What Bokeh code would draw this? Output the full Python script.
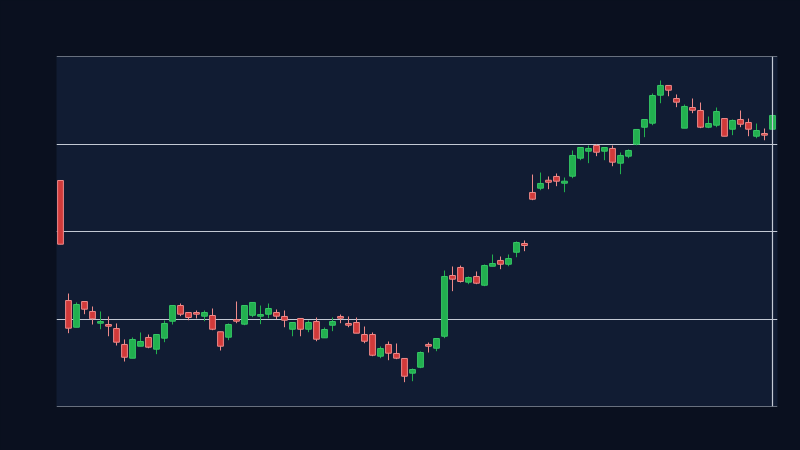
from bokeh.plotting import figure
from bokeh.models import ColumnDataSource, FixedTicker, Span, Range1d
from bokeh.embed import file_html
from bokeh.resources import INLINE

opens = [125.83, 112.11, 109.06, 112.00, 110.86, 109.52, 109.37, 108.91, 107.09, 105.52,
         106.89, 107.89, 106.55, 107.81, 109.75, 111.54, 110.74, 110.74, 110.32, 110.40,
         108.54, 107.92, 109.94, 109.41, 110.43, 110.32, 110.55, 110.74, 110.29, 108.83,
         110.06, 108.83, 109.71, 107.85, 109.29, 110.29, 109.49, 109.60, 108.23, 108.23,
         105.75, 107.09, 106.06, 105.49, 103.81, 104.49, 107.09, 106.66, 108.03, 114.97,
         115.89, 114.21, 114.86, 113.86, 116.03, 116.69, 116.26, 117.63, 118.63, 124.46,
         124.95, 125.86, 126.29, 125.52, 126.32, 128.38, 129.18, 129.83, 129.18, 129.49,
         127.81, 128.61, 129.98, 131.92, 132.38, 135.58, 136.69, 135.20, 131.81, 134.17,
         133.83, 131.92, 132.15, 132.91, 131.69, 132.80, 132.46, 130.89, 131.20, 131.69]
highs = [125.83, 112.91, 111.89, 112.00, 111.43, 110.86, 110.29, 109.49, 107.66, 107.89,
         108.46, 108.23, 108.23, 109.83, 111.54, 111.77, 110.74, 110.97, 110.97, 111.20,
         108.54, 109.49, 112.00, 111.54, 111.89, 111.54, 111.77, 111.09, 110.97, 109.60,
         110.06, 109.83, 110.17, 109.03, 110.17, 110.51, 110.29, 110.17, 109.14, 108.46,
         106.86, 107.43, 107.20, 105.49, 104.34, 106.29, 107.31, 107.77, 115.54, 116.00,
         116.11, 114.86, 115.43, 116.23, 117.37, 117.14, 117.37, 118.86, 118.97, 126.51,
         126.74, 126.29, 126.63, 126.17, 129.26, 129.60, 129.83, 129.98, 129.60, 129.83,
         129.03, 129.37, 131.66, 132.80, 135.77, 137.26, 136.69, 135.66, 134.51, 135.20,
         134.74, 133.14, 134.17, 132.91, 132.80, 133.83, 132.91, 132.34, 131.77, 133.26]
lows = [118.55, 108.38, 109.06, 110.55, 109.37, 108.83, 108.03, 106.97, 105.14, 105.52,
        106.89, 106.66, 105.98, 107.35, 109.37, 110.32, 109.86, 110.06, 109.75, 108.72,
        106.40, 107.58, 109.52, 109.29, 110.21, 109.41, 110.09, 109.98, 109.06, 108.03,
        108.03, 108.49, 107.46, 107.85, 108.61, 109.52, 109.06, 108.38, 107.23, 105.75,
        105.52, 105.29, 105.41, 102.78, 102.89, 104.38, 106.17, 106.32, 107.81, 113.18,
        114.17, 113.98, 113.98, 113.75, 116.03, 115.69, 116.03, 117.06, 117.75, 123.58,
        124.72, 124.83, 125.18, 124.49, 126.09, 128.15, 127.81, 128.61, 128.15, 127.46,
        126.55, 128.38, 129.86, 130.78, 132.15, 134.66, 135.46, 134.21, 131.81, 133.52,
        131.81, 131.81, 131.92, 130.89, 131.01, 131.92, 130.89, 130.66, 130.43, 131.69]
closes = [118.55, 108.95, 111.66, 111.12, 110.02, 109.71, 109.18, 107.35, 105.63, 107.66,
          107.43, 106.78, 108.23, 109.49, 111.54, 110.55, 110.17, 110.55, 110.74, 108.83,
          106.89, 109.37, 109.75, 111.54, 111.89, 110.51, 111.20, 110.32, 109.86, 109.60,
          108.83, 109.60, 107.69, 108.80, 109.71, 110.09, 109.29, 108.38, 107.46, 105.86,
          106.63, 106.09, 105.52, 103.46, 104.23, 106.17, 106.89, 107.77, 114.86, 114.55,
          114.29, 114.74, 114.09, 116.11, 116.34, 116.26, 116.91, 118.74, 118.40, 123.69,
          125.49, 125.63, 125.75, 125.75, 128.69, 129.60, 129.49, 129.06, 129.60, 127.92,
          128.69, 129.26, 131.66, 132.80, 135.54, 136.69, 136.15, 134.78, 134.29, 133.86,
          131.92, 132.34, 133.71, 130.89, 132.69, 132.26, 131.69, 131.54, 131.01, 133.26]
y_ticks = [100, 110, 120, 130, 140]

PAGE_BG = "#0a101f"
PLOT_BG = "#111c33"
GRID = "#c3c9d4"
UP_FILL, UP_LINE = "#22b04f", "#36c766"
DN_FILL, DN_LINE = "#d13a3a", "#ee8a8a"

idx = list(range(len(opens)))
up = [c >= o for o, c in zip(opens, closes)]
src = ColumnDataSource(dict(
    x=idx, high=highs, low=lows,
    top=[max(o, c) for o, c in zip(opens, closes)],
    bottom=[min(o, c) for o, c in zip(opens, closes)],
    fill=[UP_FILL if u else DN_FILL for u in up],
    line=[UP_LINE if u else DN_LINE for u in up],
    wick=[UP_FILL if u else DN_LINE for u in up],
))

p = figure(width=800, height=450, output_backend="svg", toolbar_location=None,
           x_axis_location=None, y_axis_location=None,
           x_range=Range1d(-0.5, 89.625), y_range=Range1d(y_ticks[0], y_ticks[-1]),
           min_border_left=56, min_border_top=56, min_border_right=23, min_border_bottom=44)
p.background_fill_color = PLOT_BG
p.border_fill_color = PAGE_BG
p.outline_line_color = None
p.xgrid.visible = False
p.ygrid.ticker = FixedTicker(ticks=y_ticks)
p.ygrid.grid_line_color = GRID
p.ygrid.grid_line_width = 1
p.ygrid.grid_line_alpha = 1.0

p.segment(x0="x", y0="low", x1="x", y1="high", source=src, line_color="wick", line_width=1)
p.vbar(x="x", top="top", bottom="bottom", width=0.72, source=src,
       fill_color="fill", line_color="line", line_width=1)

for edge in (y_ticks[0], y_ticks[-1]):
    p.add_layout(Span(location=edge, dimension="width", line_color=GRID, line_width=1.2))
p.add_layout(Span(location=idx[-1], dimension="height", line_color=GRID, line_width=1.2))

html = file_html(p, INLINE)
head_end = html.find("</head>")
style = "<style>html, body { background: %s; }</style>" % PAGE_BG
if head_end != -1:
    html = html[:head_end] + style + html[head_end:]
open("out.html", "w").write(html)
